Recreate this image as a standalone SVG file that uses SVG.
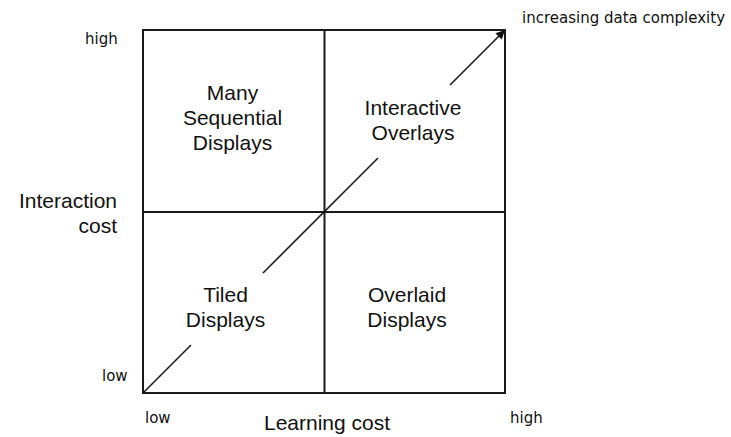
<svg xmlns="http://www.w3.org/2000/svg" width="731" height="437" viewBox="0 0 731 437">
<style>
.frame{fill:none;stroke:#1a1a1a;stroke-width:2}
.div{stroke:#1a1a1a;stroke-width:2}
.arr{stroke:#1a1a1a;stroke-width:1.6;fill:none}
.q{font-family:"Liberation Sans",Arial,sans-serif;font-size:21px;fill:#111;text-anchor:middle}
.ax{font-family:"Liberation Sans",Arial,sans-serif;font-size:21px;fill:#111}
.sm{font-family:"DejaVu Sans",Verdana,sans-serif;font-size:15px;fill:#111}
</style>
<defs>
<marker id="ah" viewBox="0 0 10 10" refX="10" refY="5" markerWidth="10" markerHeight="9" markerUnits="userSpaceOnUse" orient="auto">
<path d="M0,0 L10,5 L0,10 Z" fill="#111"/>
</marker>
</defs>
<rect width="731" height="437" fill="#fff"/>
<g id="grid">
<rect class="frame" x="143" y="30" width="362" height="363"/>
<line class="div" x1="324.5" y1="30" x2="324.5" y2="393"/>
<line class="div" x1="143" y1="212" x2="505" y2="212"/>
</g>
<g id="connectors">
<line class="arr" x1="143" y1="393" x2="191" y2="345"/>
<line class="arr" x1="263" y1="273" x2="378" y2="158"/>
<line class="arr" x1="450" y1="85" x2="505" y2="30" marker-end="url(#ah)"/>
</g>
<g id="q-many"><text class="q" x="232.5" y="100">Many</text><text class="q" x="232.5" y="125">Sequential</text><text class="q" x="232.5" y="150">Displays</text></g>
<g id="q-interactive"><text class="q" x="413" y="115">Interactive</text><text class="q" x="413" y="140">Overlays</text></g>
<g id="q-tiled"><text class="q" x="225.5" y="302">Tiled</text><text class="q" x="225.5" y="327">Displays</text></g>
<g id="q-overlaid"><text class="q" x="407" y="302">Overlaid</text><text class="q" x="407" y="327">Displays</text></g>
<g id="axis-y"><text class="ax" x="117" y="208" text-anchor="end">Interaction</text><text class="ax" x="117" y="233" text-anchor="end">cost</text>
<text class="sm" x="85" y="44">high</text><text class="sm" x="102" y="381">low</text></g>
<g id="axis-x"><text class="ax" x="327" y="430" text-anchor="middle">Learning cost</text>
<text class="sm" x="145" y="423">low</text><text class="sm" x="510" y="423">high</text></g>
<g id="label-complexity"><text class="sm" x="522" y="23">increasing data complexity</text></g>
</svg>
